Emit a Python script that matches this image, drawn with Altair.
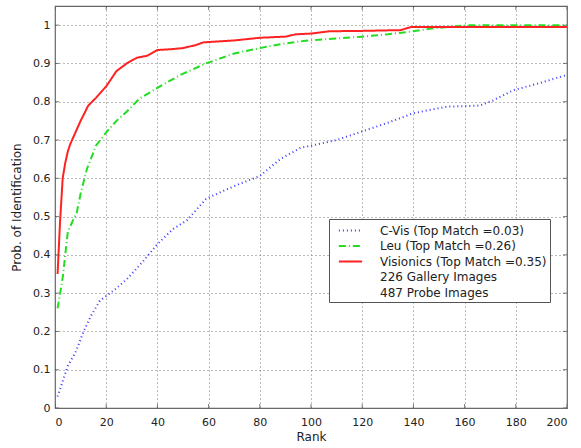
import altair as alt
import pandas as pd

series_names = ["C-Vis (Top Match =0.03)", "Leu (Top Match =0.26)", "Visionics (Top Match =0.35)",
                "226 Gallery Images", "487 Probe Images"]

blue_rank = [1, 3, 5, 8, 11, 14, 17.5, 23.5, 28, 34, 40, 46, 51.5, 59, 65, 72, 80, 88, 96, 100,
             110, 119, 130, 140, 153, 166, 171, 179, 190, 200]
blue_val = [0.03, 0.07, 0.11, 0.145, 0.197, 0.24, 0.28, 0.31, 0.336, 0.38, 0.428, 0.467, 0.49, 0.546,
            0.565, 0.585, 0.606, 0.65, 0.68, 0.685, 0.70, 0.72, 0.745, 0.77, 0.787, 0.79, 0.803, 0.83,
            0.85, 0.87]

green_rank = [1, 2, 3, 4, 5, 7, 8.5, 10, 12.5, 16, 20, 24, 28, 33, 41, 49, 59, 70, 80, 88, 96, 105,
              120, 130, 140, 148, 155, 161, 180, 200]
green_val = [0.26, 0.30, 0.34, 0.40, 0.46, 0.49, 0.51, 0.56, 0.625, 0.685, 0.72, 0.75, 0.774, 0.808,
             0.84, 0.87, 0.90, 0.926, 0.94, 0.95, 0.958, 0.963, 0.97, 0.976, 0.984, 0.992, 0.996,
             1.0, 1.0, 1.0]

red_rank = [1, 2, 3, 4, 5, 6, 8, 10, 13, 16, 20, 24, 28, 32, 36, 40, 45, 50, 55, 58, 65, 70, 80, 90,
            94, 100, 107, 120, 135, 139, 160, 180, 200]
red_val = [0.35, 0.49, 0.60, 0.64, 0.67, 0.69, 0.72, 0.75, 0.79, 0.81, 0.84, 0.88, 0.90, 0.915, 0.92,
           0.935, 0.937, 0.94, 0.948, 0.955, 0.958, 0.96, 0.967, 0.97, 0.976, 0.978, 0.984, 0.985,
           0.987, 0.995, 0.995, 0.995, 0.995]

x_ticks = list(range(0, 201, 20))
y_ticks = [0, 0.1, 0.2, 0.3, 0.4, 0.5, 0.6, 0.7, 0.8, 0.9, 1.0]
x_domain = [0, 200]
y_domain = [0, 1.05]

rows = []
for name, ranks, vals in [(series_names[0], blue_rank, blue_val),
                          (series_names[1], green_rank, green_val),
                          (series_names[2], red_rank, red_val)]:
    for i, (r, v) in enumerate(zip(ranks, vals)):
        rows.append({"series": name, "rank": r, "prob": v, "order": i})
df = pd.DataFrame(rows)

# tick marks drawn inward on all four sides (MATLAB style)
xt = pd.DataFrame([{"rank": t, "prob": y} for t in x_ticks for y in y_domain])
yt = pd.DataFrame([{"rank": x, "prob": t} for t in y_ticks for x in x_domain])

FONT = "DejaVu Sans"

x_enc = alt.X("rank:Q", scale=alt.Scale(domain=x_domain, nice=False),
              axis=alt.Axis(values=x_ticks, title="Rank", tickSize=0, labelPadding=8,
                            titlePadding=4))
y_enc = alt.Y("prob:Q", scale=alt.Scale(domain=y_domain, nice=False),
              axis=alt.Axis(values=y_ticks, format="~g", title="Prob. of Identification",
                            tickSize=0, labelPadding=5, titlePadding=9))

lines = alt.Chart(df).mark_line(clip=True).encode(
    x=x_enc,
    y=y_enc,
    color=alt.Color("series:N", scale=alt.Scale(domain=series_names,
                    range=["#3a3aff", "#22dd22", "#ff2222", "transparent", "transparent"]),
                    legend=alt.Legend(title=None, orient="none", legendX=274, legendY=213,
                                      symbolType="M-1.55,0H1.55", symbolSize=225,
                                      symbolStrokeWidth=2, symbolOffset=10,
                                      labelFontSize=12, labelFont=FONT, labelColor="#222",
                                      strokeColor="#555", fillColor="white", padding=3,
                                      rowPadding=0.5, labelOffset=21, labelLimit=300)),
    strokeDash=alt.StrokeDash("series:N", scale=alt.Scale(domain=series_names,
                              range=[[1, 3], [7, 3, 1, 3], [1, 0], [1, 0], [1, 0]]),
                              legend=alt.Legend(title=None)),
    detail="series:N",
    order="order:Q",
    strokeWidth=alt.value(2),
)

xticks = alt.Chart(xt).mark_tick(orient="vertical", size=8, thickness=1, color="#444",
                                 clip=True).encode(x="rank:Q", y="prob:Q")
yticks = alt.Chart(yt).mark_tick(orient="horizontal", size=8, thickness=1, color="#444",
                                 clip=True).encode(x="rank:Q", y="prob:Q")

chart = alt.layer(lines, xticks, yticks).properties(width=512, height=402)

chart = chart.configure(
    autosize=alt.AutoSizeParams(type="none"),
    padding={"left": 55, "top": 6, "right": 14, "bottom": 40},
    background="white",
).configure_view(
    stroke="#666", strokeWidth=1.2
).configure_axis(
    grid=True, gridDash=[1, 3], gridColor="#777", gridOpacity=1, gridWidth=1,
    domain=False, labelFont=FONT, labelFontSize=11, labelColor="#222",
    titleFont=FONT, titleFontSize=12, titleFontWeight="normal", titleColor="#222",
)

chart.save("out.html", embed_options={"renderer": "svg", "actions": False})
